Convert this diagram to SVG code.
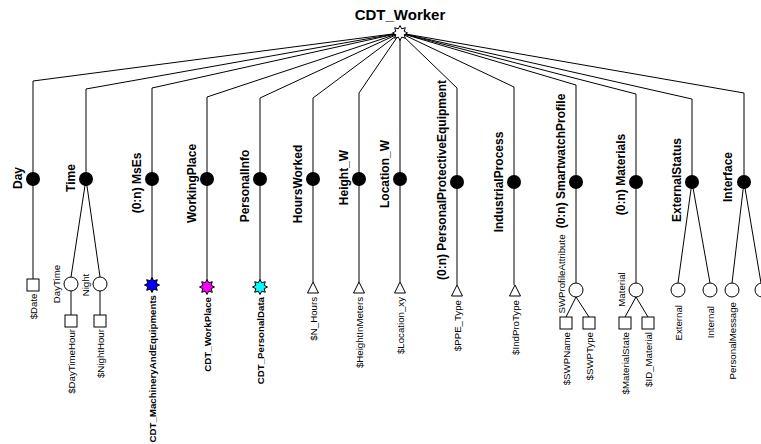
<svg xmlns="http://www.w3.org/2000/svg" xmlns:xlink="http://www.w3.org/1999/xlink" width="761" height="444" viewBox="0 0 761 444">
<style>
.ln{stroke:#000;stroke-width:1;fill:none}
.dot{fill:#000}
.oc{fill:#fff;stroke:#000;stroke-width:1}
.t{font-family:"Liberation Sans",Arial,sans-serif;fill:#000}
.b{font-weight:bold;font-size:12px;text-anchor:middle}
.s{font-size:9.7px;text-anchor:end}
.sm{font-size:9.7px;text-anchor:middle}
.sb{font-weight:bold;font-size:9.7px;text-anchor:end}
.title{font-weight:bold;font-size:15px;text-anchor:middle}
</style>
<defs>
<path id="star" d="M0,-7.5 L1.72,-4.16 L5.3,-5.3 L4.16,-1.72 L7.5,0 L4.16,1.72 L5.3,5.3 L1.72,4.16 L0,7.5 L-1.72,4.16 L-5.3,5.3 L-4.16,1.72 L-7.5,0 L-4.16,-1.72 L-5.3,-5.3 L-1.72,-4.16 Z" stroke="#000" stroke-width="1"/>
<path id="tri" d="M0,0 L5.5,11 L-5.5,11 Z" fill="#fff" stroke="#000" stroke-width="1"/>
<rect id="sq" x="-6" y="0" width="12" height="12" fill="#fff" stroke="#000" stroke-width="1"/>
</defs>
<g id="connectors">
<path class="ln" d="M400,33 L33,81 L33,279"/>
<path class="ln" d="M400,33 L86,89 L86,179 M86,179 L71,277 M86,179 L100,277 M71,291 L71,315 M100,291 L100,315"/>
<path class="ln" d="M400,33 L152,88 L152,285"/>
<path class="ln" d="M400,33 L207,97 L207,287"/>
<path class="ln" d="M400,33 L260,98 L260,287"/>
<path class="ln" d="M400,33 L313,98 L313,282"/>
<path class="ln" d="M400,33 L359,93 L359,282"/>
<path class="ln" d="M400,33 L400,282"/>
<path class="ln" d="M400,33 L457,88 L457,285"/>
<path class="ln" d="M400,33 L514,87 L514,285"/>
<path class="ln" d="M400,33 L576,85 L576,283 M576,297 L566,317 M576,297 L589,317"/>
<path class="ln" d="M400,33 L636,94 L636,283 M636,297 L625,317 M636,297 L648,317"/>
<path class="ln" d="M400,33 L692,99 L692,182 M692,182 L678,283 M692,182 L710,283"/>
<path class="ln" d="M400,33 L744,93 L744,182 M744,182 L732,283 M744,182 L761,283"/>
</g>
<g id="CDT_Worker">
<use xlink:href="#star" x="400" y="33" fill="#fff"/>
<text class="t title" x="400" y="20">CDT_Worker</text>
</g>
<g id="Day">
<circle class="dot" cx="33" cy="179" r="7"/>
<text class="t b" transform="translate(22,178) rotate(-90)">Day</text>
<use xlink:href="#sq" x="33" y="279"/>
<text class="t s" transform="translate(36.5,293.5) rotate(-90)">$Date</text>
</g>
<g id="Time">
<circle class="dot" cx="86" cy="179" r="7"/>
<text class="t b" transform="translate(75,178) rotate(-90)">Time</text>
<circle class="oc" cx="71" cy="284" r="7"/>
<text class="t sm" transform="translate(60,284) rotate(-90)">DayTime</text>
<circle class="oc" cx="100" cy="284" r="7"/>
<text class="t sm" transform="translate(89,285) rotate(-90)">Night</text>
<use xlink:href="#sq" x="71" y="315"/>
<text class="t s" transform="translate(74.5,329) rotate(-90)">$DayTimeHour</text>
<use xlink:href="#sq" x="100" y="315"/>
<text class="t s" transform="translate(103.5,329) rotate(-90)">$NightHour</text>
</g>
<g id="MsEs">
<circle class="dot" cx="152" cy="179" r="7"/>
<text class="t b" transform="translate(141,183) rotate(-90)">(0:n) MsEs</text>
<use xlink:href="#star" x="152" y="285" fill="#0000ff"/>
<text class="t sb" transform="translate(155.5,295) rotate(-90)">CDT_MachineryAndEquipments</text>
</g>
<g id="WorkingPlace">
<circle class="dot" cx="207" cy="179" r="7"/>
<text class="t b" transform="translate(196,183.5) rotate(-90)">WorkingPlace</text>
<use xlink:href="#star" x="207" y="287" fill="#ff00ff"/>
<text class="t sb" transform="translate(210.5,297) rotate(-90)">CDT_WorkPlace</text>
</g>
<g id="PersonalInfo">
<circle class="dot" cx="260" cy="179" r="7"/>
<text class="t b" transform="translate(249,186) rotate(-90)">PersonalInfo</text>
<use xlink:href="#star" x="260" y="287" fill="#00ffff"/>
<text class="t sb" transform="translate(263.5,297) rotate(-90)">CDT_PersonalData</text>
</g>
<g id="HoursWorked">
<circle class="dot" cx="313" cy="179" r="7"/>
<text class="t b" transform="translate(302,184) rotate(-90)">HoursWorked</text>
<use xlink:href="#tri" x="313" y="282"/>
<text class="t s" transform="translate(316.5,297) rotate(-90)">$N_Hours</text>
</g>
<g id="Height_W">
<circle class="dot" cx="359" cy="179" r="7"/>
<text class="t b" transform="translate(348,177.5) rotate(-90)">Height_W</text>
<use xlink:href="#tri" x="359" y="282"/>
<text class="t s" transform="translate(362.5,297) rotate(-90)">$HeightInMeters</text>
</g>
<g id="Location_W">
<circle class="dot" cx="400" cy="179" r="7"/>
<text class="t b" transform="translate(389,174) rotate(-90)">Location_W</text>
<use xlink:href="#tri" x="400" y="282"/>
<text class="t s" transform="translate(403.5,297) rotate(-90)">$Location_xy</text>
</g>
<g id="PersonalProtectiveEquipment">
<circle class="dot" cx="457" cy="182" r="7"/>
<text class="t b" transform="translate(446,180) rotate(-90)">(0:n) PersonalProtectiveEquipment</text>
<use xlink:href="#tri" x="457" y="285"/>
<text class="t s" transform="translate(460.5,300) rotate(-90)">$PPE_Type</text>
</g>
<g id="IndustrialProcess">
<circle class="dot" cx="514" cy="182" r="7"/>
<text class="t b" transform="translate(503,182) rotate(-90)">IndustrialProcess</text>
<use xlink:href="#tri" x="515" y="285"/>
<text class="t s" transform="translate(518.5,300) rotate(-90)">$IndProType</text>
</g>
<g id="SmartwatchProfile">
<circle class="dot" cx="576" cy="182" r="7"/>
<text class="t b" transform="translate(565,161) rotate(-90)">(0:n) SmartwatchProfile</text>
<circle class="oc" cx="576" cy="290" r="7"/>
<text class="t sm" transform="translate(565,274) rotate(-90)">SWProfileAttribute</text>
<use xlink:href="#sq" x="566" y="317"/>
<text class="t s" transform="translate(569.5,332) rotate(-90)">$SWPName</text>
<use xlink:href="#sq" x="589" y="317"/>
<text class="t s" transform="translate(592.5,332) rotate(-90)">$SWPType</text>
</g>
<g id="Materials">
<circle class="dot" cx="636" cy="182" r="7"/>
<text class="t b" transform="translate(625,174.5) rotate(-90)">(0:n) Materials</text>
<circle class="oc" cx="636" cy="290" r="7"/>
<text class="t sm" transform="translate(625,289.5) rotate(-90)">Material</text>
<use xlink:href="#sq" x="625" y="317"/>
<text class="t s" transform="translate(628.5,332) rotate(-90)">$MaterialState</text>
<use xlink:href="#sq" x="648" y="317"/>
<text class="t s" transform="translate(651.5,332) rotate(-90)">$ID_Material</text>
</g>
<g id="ExternalStatus">
<circle class="dot" cx="692" cy="182" r="7"/>
<text class="t b" transform="translate(681,180) rotate(-90)">ExternalStatus</text>
<circle class="oc" cx="678" cy="290" r="7"/>
<text class="t s" transform="translate(681.5,305) rotate(-90)">External</text>
<circle class="oc" cx="710" cy="290" r="7"/>
<text class="t s" transform="translate(713.5,306) rotate(-90)">Internal</text>
</g>
<g id="Interface">
<circle class="dot" cx="744" cy="182" r="7"/>
<text class="t b" transform="translate(732,177) rotate(-90)">Interface</text>
<circle class="oc" cx="732" cy="290" r="7"/>
<text class="t s" transform="translate(735.5,302) rotate(-90)">PersonalMessage</text>
<circle class="oc" cx="762" cy="290" r="7"/>
</g>
</svg>
